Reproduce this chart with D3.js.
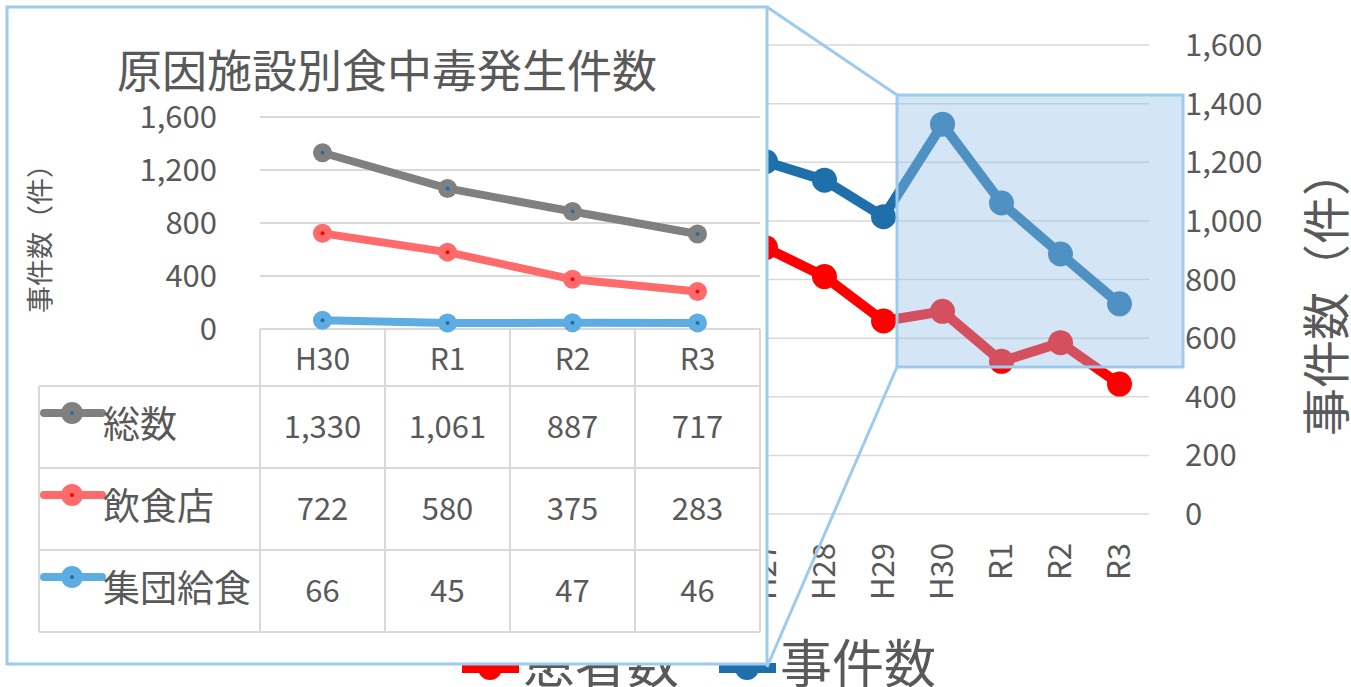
<!DOCTYPE html>
<html><head><meta charset="utf-8">
<script src="https://cdn.jsdelivr.net/npm/d3@7/dist/d3.min.js"></script>
<style>body{margin:0;background:#fff;overflow:hidden} svg{display:block}</style>
</head><body><svg id="c" width="1351" height="687"></svg>
<script>
// ---------- data ----------
const years = ['H15','H16','H17','H18','H19','H20','H21','H22','H23','H24','H25','H26','H27','H28','H29','H30','R1','R2','R3'];
const incidents = [1585,1666,1545,1491,1289,1369,1048,1254,1062,1100,931,976,1202,1139,1014,1330,1061,887,717];
const patients = [29355,28175,27019,39026,33477,24303,20249,25972,21616,26699,20802,19355,22718,20252,16464,17282,13018,14613,11080];
const rightTicks = [0,200,400,600,800,1000,1200,1400,1600];
const legendLabels = ['患者数','事件数'];

const insetCategories = ['H30','R1','R2','R3'];
const insetSeriesNames = ['総数','飲食店','集団給食'];
const totalVals = [1330,1061,887,717];
const restaurantVals = [722,580,375,283];
const groupVals = [66,45,47,46];
const insetTicks = [0,400,800,1200,1600];

// ---------- setup ----------
const svg = d3.select('#c');
const FONT = '"Noto Sans CJK JP", "Noto Sans", sans-serif';
const TXT = '#595959';
const fmt = d3.format(',');

// ---------- background chart ----------
const bx = d3.scaleBand().domain(years).range([28,1149]);
const bxc = d => bx(d) + bx.bandwidth()/2;
const yR = d3.scaleLinear().domain([0,1600]).range([514,45]);
const yL = d3.scaleLinear().domain([0,40000]).range([514,45]);

const bg = svg.append('g');
bg.selectAll('line.grid').data(rightTicks).join('line')
  .attr('x1',28).attr('x2',1149).attr('y1',d=>yR(d)).attr('y2',d=>yR(d))
  .attr('stroke','#d9d9d9').attr('stroke-width',1.5);

const rAxis = d3.axisRight(yR).tickValues(rightTicks).tickFormat(fmt).tickSize(0).tickPadding(0);
const rg = bg.append('g').attr('transform','translate(1185,0)').call(rAxis);
rg.select('.domain').remove();
rg.selectAll('text').attr('font-family',FONT).attr('font-size',31).attr('fill',TXT).attr('dy','0.34em');

bg.append('text').attr('transform','translate(1323,292) rotate(-90)')
  .attr('text-anchor','middle').attr('dominant-baseline','central')
  .attr('font-family',FONT).attr('font-size',48).attr('fill',TXT).text('事件数（件）');

const xAxis = d3.axisBottom(bx).tickSize(0).tickPadding(0);
const xg = bg.append('g').attr('transform','translate(0,543)').call(xAxis);
xg.select('.domain').remove();
xg.selectAll('text').attr('font-family',FONT).attr('font-size',31).attr('fill',TXT)
  .attr('text-anchor','end').attr('transform','rotate(-90)').attr('x',0).attr('y',0).attr('dy','0.35em');

const lineR = d3.line().x((d,i)=>bxc(years[i])).y(d=>yL(d));
const lineB = d3.line().x((d,i)=>bxc(years[i])).y(d=>yR(d));
bg.append('path').attr('d',lineR(patients)).attr('fill','none').attr('stroke','#ff0000').attr('stroke-width',10).attr('stroke-linejoin','round');
bg.selectAll('circle.r').data(patients).join('circle').attr('cx',(d,i)=>bxc(years[i])).attr('cy',d=>yL(d)).attr('r',12.5).attr('fill','#ff0000');
bg.append('path').attr('d',lineB(incidents)).attr('fill','none').attr('stroke','#1f6faa').attr('stroke-width',10).attr('stroke-linejoin','round');
bg.selectAll('circle.b').data(incidents).join('circle').attr('cx',(d,i)=>bxc(years[i])).attr('cy',d=>yR(d)).attr('r',12.5).attr('fill','#1f6faa');

// legend
const legColors = ['#ff0000','#1f6faa'];
const legX = [462,719];
legendLabels.forEach((lab,i)=>{
  const g = bg.append('g').attr('transform',`translate(${legX[i]},668)`);
  g.append('line').attr('x1',0).attr('x2',57).attr('stroke',legColors[i]).attr('stroke-width',10);
  g.append('circle').attr('cx',28).attr('r',12).attr('fill',legColors[i]);
  g.append('text').attr('x',61).attr('y',-8).attr('dominant-baseline','central')
    .attr('font-family',FONT).attr('font-size',52).attr('fill',TXT).text(lab);
});

// connector lines and zoom rect
const zr = {x:897,y:95,w:286,h:272};
const ins = {x:7,y:7,w:760,h:657};
svg.append('line').attr('x1',ins.x+ins.w).attr('y1',ins.y).attr('x2',zr.x).attr('y2',zr.y).attr('stroke','#9dcbee').attr('stroke-width',3);
svg.append('line').attr('x1',ins.x+ins.w).attr('y1',ins.y+ins.h+3).attr('x2',zr.x).attr('y2',zr.y+zr.h).attr('stroke','#9dcbee').attr('stroke-width',3);
svg.append('rect').attr('x',zr.x).attr('y',zr.y).attr('width',zr.w).attr('height',zr.h)
  .attr('fill','rgba(150,195,230,0.41)').attr('stroke','#9dcbee').attr('stroke-width',3);

// ---------- inset ----------
const ig = svg.append('g');
ig.append('rect').attr('x',ins.x).attr('y',ins.y).attr('width',ins.w).attr('height',ins.h)
  .attr('fill','#fff').attr('stroke','#9dcbee').attr('stroke-width',3);

ig.append('text').attr('x',387).attr('y',68).attr('text-anchor','middle').attr('dominant-baseline','central')
  .attr('font-family',FONT).attr('font-size',45).attr('fill',TXT).text('原因施設別食中毒発生件数');

const ix = d3.scaleBand().domain(insetCategories).range([260,760]);
const ixc = d => ix(d) + ix.bandwidth()/2;
const iy = d3.scaleLinear().domain([0,1600]).range([329,117]);

ig.selectAll('line.ig').data(insetTicks).join('line')
  .attr('x1',260).attr('x2',760).attr('y1',d=>iy(d)).attr('y2',d=>iy(d))
  .attr('stroke','#d9d9d9').attr('stroke-width',2);

const lAxis = d3.axisLeft(iy).tickValues(insetTicks).tickFormat(fmt).tickSize(0).tickPadding(0);
const lg = ig.append('g').attr('transform','translate(217,0)').call(lAxis);
lg.select('.domain').remove();
lg.selectAll('text').attr('font-family',FONT).attr('font-size',31).attr('fill',TXT).attr('dy','0.34em');

ig.append('text').attr('transform','translate(38,232) rotate(-90)')
  .attr('text-anchor','middle').attr('dominant-baseline','central')
  .attr('font-family',FONT).attr('font-size',27).attr('fill',TXT).text('事件数（件）');

// table grid
const rowTops = [386,468,550,632];
const colEdges = [260].concat(insetCategories.map(c=>ix(c)+ix.bandwidth()));
ig.selectAll('line.cv').data(colEdges).join('line')
  .attr('x1',d=>d).attr('x2',d=>d).attr('y1',329).attr('y2',632).attr('stroke','#d9d9d9').attr('stroke-width',2);
ig.append('line').attr('x1',39).attr('x2',39).attr('y1',386).attr('y2',632).attr('stroke','#d9d9d9').attr('stroke-width',2);
ig.selectAll('line.rh').data(rowTops).join('line')
  .attr('x1',39).attr('x2',760).attr('y1',d=>d).attr('y2',d=>d).attr('stroke','#d9d9d9').attr('stroke-width',2);

// header labels
ig.selectAll('text.cat').data(insetCategories).join('text')
  .attr('x',d=>ixc(d)).attr('y',357).attr('text-anchor','middle').attr('dominant-baseline','central')
  .attr('font-family',FONT).attr('font-size',30).attr('fill',TXT).text(d=>d);

const seriesVals = [totalVals,restaurantVals,groupVals];
const seriesColors = ['#808080','#ff6b6b','#5dade2'];
const dotColors = ['#1f6faa','#ff0000','#1f6faa'];

// lines
seriesVals.forEach((vals,s)=>{
  const ln = d3.line().x((d,i)=>ixc(insetCategories[i])).y(d=>iy(d));
  ig.append('path').attr('d',ln(vals)).attr('fill','none').attr('stroke',seriesColors[s]).attr('stroke-width',8).attr('stroke-linejoin','round');
  ig.selectAll(null).data(vals).join('circle').attr('cx',(d,i)=>ixc(insetCategories[i])).attr('cy',d=>iy(d)).attr('r',9.5).attr('fill',seriesColors[s]);
  ig.selectAll(null).data(vals).join('circle').attr('cx',(d,i)=>ixc(insetCategories[i])).attr('cy',d=>iy(d)).attr('r',2).attr('fill',dotColors[s]);
});

// rows
seriesVals.forEach((vals,s)=>{
  const cy = (rowTops[s]+rowTops[s+1])/2;
  const k = ig.append('g').attr('transform',`translate(44,${cy-14})`);
  k.append('line').attr('x1',0).attr('x2',58).attr('stroke',seriesColors[s]).attr('stroke-width',8).attr('stroke-linecap','round');
  k.append('circle').attr('cx',28).attr('r',11).attr('fill',seriesColors[s]);
  k.append('circle').attr('cx',28).attr('r',2).attr('fill',dotColors[s]);
  ig.append('text').attr('x',103).attr('y',cy-5).attr('dominant-baseline','central')
    .attr('font-family',FONT).attr('font-size',37).attr('fill',TXT).text(insetSeriesNames[s]);
  ig.selectAll(null).data(vals).join('text')
    .attr('x',(d,i)=>ixc(insetCategories[i])).attr('y',cy-3).attr('text-anchor','middle').attr('dominant-baseline','central')
    .attr('font-family',FONT).attr('font-size',31).attr('fill',TXT).text(d=>fmt(d));
});
</script></body></html>
